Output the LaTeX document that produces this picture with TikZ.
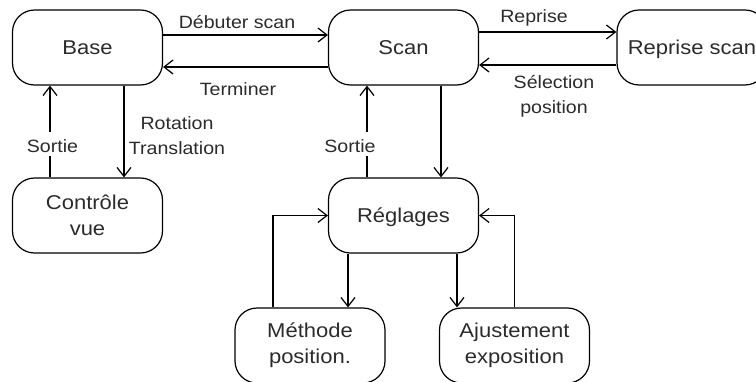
\documentclass[tikz,border=0pt]{standalone}
\usepackage{fontspec}
\setmainfont{Liberation Sans}[FakeStretch=1.1]
\usetikzlibrary{arrows.meta,calc}
\definecolor{txt}{HTML}{2B2B2B}
\tikzset{
 box/.style={draw=black, line width=1.2pt, rounded corners=22pt, minimum width=150pt, minimum height=75pt, inner sep=0pt, align=center, text=txt, font=\fontsize{20}{26}\selectfont},
 oneline/.style={text height=14pt, text depth=0pt},
 twoline/.style={},
 lbl/.style={text=txt, font=\fontsize{17.8}{25}\selectfont, align=center, inner sep=1pt, anchor=base},
 onlbl/.style={lbl, fill=white, inner sep=2pt, text height=18pt, text depth=2pt},
 arr/.style={draw=black, line width=1.2pt, -{Straight Barb[length=9pt,width=14pt]}},
}
\begin{document}
\begin{tikzpicture}[x=1pt,y=-1pt]
\useasboundingbox (0,0) rectangle (756,381);
\clip (0,0) rectangle (756,381);
\node[box,oneline] (base) at (87.5,47.5) {Base};
\node[box,oneline] (scan) at (403.5,47.5) {Scan};
\node[box,oneline] (rep) at (692,47.5) {Reprise scan};
\node[box,twoline] (ctrl) at (87.5,215.5) {Contrôle\\vue};
\node[box,oneline] (regl) at (403.5,215.5) {Réglages};
\node[box,twoline] (meth) at (310,345.5) {Méthode\\position.};
\node[box,twoline] (ajust) at (514.5,345.5) {Ajustement\\exposition};
% top row
\draw[arr] ([yshift=12.5pt]base.east) -- ([yshift=12.5pt]scan.west);
\draw[arr] ([yshift=-19.5pt]scan.west) -- ([yshift=-19.5pt]base.east);
\draw[arr] ([yshift=15.5pt]scan.east) -- ([yshift=15.5pt]rep.west);
\draw[arr] ([yshift=-17.5pt]rep.west) -- ([yshift=-17.5pt]scan.east);
% verticals
\draw[arr] ([xshift=36.5pt]base.south) -- ([xshift=36.5pt]ctrl.north);
\draw[arr] ([xshift=-37.5pt]ctrl.north) -- ([xshift=-37.5pt]base.south);
\draw[arr] ([xshift=37.5pt]scan.south) -- ([xshift=37.5pt]regl.north);
\draw[arr] ([xshift=-36.5pt]regl.north) -- ([xshift=-36.5pt]scan.south);
% bottom
\draw[arr] ([xshift=-55.5pt]regl.south) -- ([xshift=-55.5pt]regl.south |- meth.north);
\draw[arr] ([xshift=-37pt]meth.north) |- (regl.west);
\draw[arr] ([xshift=53.5pt]regl.south) -- ([xshift=53.5pt]regl.south |- ajust.north);
\draw[arr] (ajust.north) |- (regl.east);
% labels
\node[lbl] (lDeb) at (237,28) {Débuter scan};
\node[lbl] (lTer) at (238,95) {Terminer};
\node[lbl] (lRot) at (177,154) {Rotation\\Translation};
\node[onlbl] (lS1) at (52.5,152) {Sortie};
\node[onlbl] (lS2) at (350,152) {Sortie};
\node[lbl] (lRep) at (534,22) {Reprise};
\node[lbl] (lSel) at (554,113) {Sélection\\position};
\end{tikzpicture}
\end{document}
